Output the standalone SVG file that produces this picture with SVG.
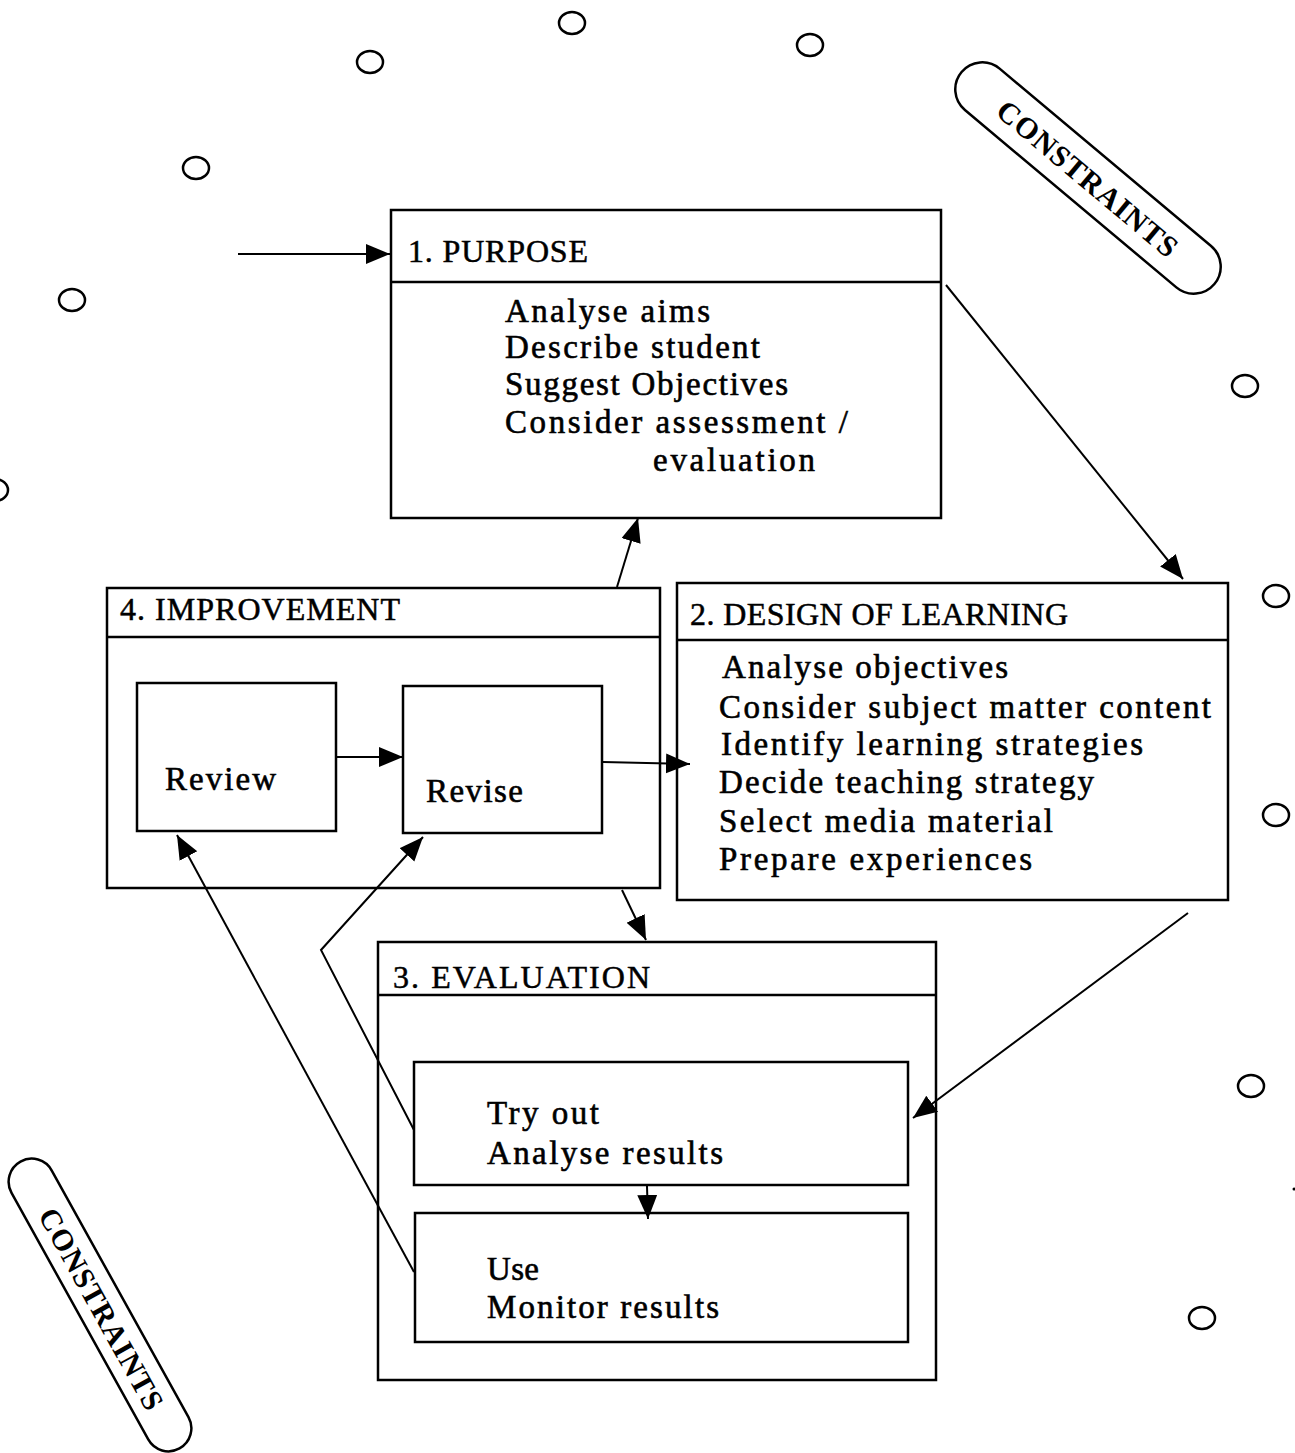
<svg xmlns="http://www.w3.org/2000/svg" width="1295" height="1453" viewBox="0 0 1295 1453">
<style>
.box{fill:none;stroke:#000;stroke-width:2.5}
.ln{fill:none;stroke:#000;stroke-width:2}
.t{font-family:"Liberation Serif","Times New Roman",serif;font-size:33px;fill:#000;stroke:#000;stroke-width:0.6}
.h{font-family:"Liberation Serif","Times New Roman",serif;font-size:32px;fill:#000;stroke:#000;stroke-width:0.5}
.c{font-family:"Liberation Serif","Times New Roman",serif;font-size:30px;font-weight:bold;fill:#000;text-anchor:middle}
.dot{fill:none;stroke:#000;stroke-width:2.5}
</style>
<defs>
<marker id="ah" markerUnits="userSpaceOnUse" markerWidth="26" markerHeight="22" refX="24" refY="10" orient="auto">
<path d="M0,0 L24,10 L0,20 z" fill="#000"/>
</marker>
</defs>
<rect width="1295" height="1453" fill="#fff"/>
<g id="circles">
<ellipse class="dot" cx="572" cy="23" rx="13" ry="11"/>
<ellipse class="dot" cx="810" cy="45" rx="13" ry="11"/>
<ellipse class="dot" cx="370" cy="62" rx="13" ry="11"/>
<ellipse class="dot" cx="196" cy="168" rx="13" ry="11"/>
<ellipse class="dot" cx="72" cy="300" rx="13" ry="11"/>
<ellipse class="dot" cx="-5" cy="490" rx="13" ry="11"/>
<ellipse class="dot" cx="1245" cy="386" rx="13" ry="11"/>
<ellipse class="dot" cx="1276" cy="596" rx="13" ry="11"/>
<ellipse class="dot" cx="1276" cy="815" rx="13" ry="11"/>
<ellipse class="dot" cx="1251" cy="1086" rx="13" ry="11"/>
<ellipse class="dot" cx="1202" cy="1318" rx="13" ry="11"/>
<circle cx="1294" cy="1189" r="1.5" fill="#000"/>
</g>
<g id="constraints-top" transform="translate(1088,178) rotate(40)">
<rect class="box" x="-165" y="-27" width="330" height="54" rx="27"/>
<text class="c" x="0" y="11" textLength="226" lengthAdjust="spacing">CONSTRAINTS</text>
</g>
<g id="constraints-bottom" transform="translate(100,1305) rotate(61)">
<rect class="box" x="-164" y="-23" width="328" height="46" rx="23"/>
<text class="c" x="4" y="11" textLength="226" lengthAdjust="spacing">CONSTRAINTS</text>
</g>
<g id="purpose">
<rect class="box" x="391" y="210" width="550" height="308"/>
<line class="box" x1="391" y1="282" x2="941" y2="282"/>
<text class="h" x="408" y="262" textLength="180" lengthAdjust="spacing">1. PURPOSE</text>
<text class="t" x="505" y="322" textLength="205" lengthAdjust="spacing">Analyse aims</text>
<text class="t" x="505" y="358" textLength="255" lengthAdjust="spacing">Describe student</text>
<text class="t" x="505" y="395" textLength="283" lengthAdjust="spacing">Suggest Objectives</text>
<text class="t" x="505" y="433" textLength="343" lengthAdjust="spacing">Consider assessment /</text>
<text class="t" x="653" y="471" textLength="162" lengthAdjust="spacing">evaluation</text>
</g>
<g id="design">
<rect class="box" x="677" y="583" width="551" height="317"/>
<line class="box" x1="677" y1="640" x2="1228" y2="640"/>
<text class="h" x="690" y="625" textLength="378" lengthAdjust="spacing">2. DESIGN OF LEARNING</text>
<text class="t" x="722" y="678" textLength="286" lengthAdjust="spacing">Analyse objectives</text>
<text class="t" x="719" y="718" textLength="492" lengthAdjust="spacing">Consider subject matter content</text>
<text class="t" x="721" y="755" textLength="422" lengthAdjust="spacing">Identify learning strategies</text>
<text class="t" x="719" y="793" textLength="375" lengthAdjust="spacing">Decide teaching strategy</text>
<text class="t" x="719" y="832" textLength="334" lengthAdjust="spacing">Select media material</text>
<text class="t" x="719" y="870" textLength="313" lengthAdjust="spacing">Prepare experiences</text>
</g>
<g id="improvement">
<rect class="box" x="107" y="588" width="553" height="300"/>
<line class="box" x1="107" y1="637" x2="660" y2="637"/>
<text class="h" x="120" y="620" textLength="280" lengthAdjust="spacing">4. IMPROVEMENT</text>
</g>
<g id="review">
<rect class="box" x="137" y="683" width="199" height="148"/>
<text class="t" x="165" y="790" textLength="111" lengthAdjust="spacing">Review</text>
</g>
<g id="revise">
<rect class="box" x="403" y="686" width="199" height="147"/>
<text class="t" x="426" y="802" textLength="97" lengthAdjust="spacing">Revise</text>
</g>
<g id="evaluation">
<rect class="box" x="378" y="942" width="558" height="438"/>
<line class="box" x1="378" y1="995" x2="936" y2="995"/>
<text class="h" x="393" y="988" textLength="257" lengthAdjust="spacing">3. EVALUATION</text>
</g>
<g id="tryout">
<rect class="box" x="414" y="1062" width="494" height="123"/>
<text class="t" x="487" y="1124" textLength="112" lengthAdjust="spacing">Try out</text>
<text class="t" x="487" y="1164" textLength="236" lengthAdjust="spacing">Analyse results</text>
</g>
<g id="use">
<rect class="box" x="415" y="1213" width="493" height="129"/>
<text class="t" x="487" y="1280" textLength="52" lengthAdjust="spacing">Use</text>
<text class="t" x="487" y="1318" textLength="232" lengthAdjust="spacing">Monitor results</text>
</g>
<g id="connectors">
<line class="ln" x1="238" y1="254" x2="390" y2="254" marker-end="url(#ah)"/>
<line class="ln" x1="946" y1="285" x2="1183" y2="579" marker-end="url(#ah)"/>
<line class="ln" x1="617" y1="587" x2="638" y2="518" marker-end="url(#ah)"/>
<line class="ln" x1="336" y1="757" x2="403" y2="757" marker-end="url(#ah)"/>
<line class="ln" x1="603" y1="762" x2="690" y2="764" marker-end="url(#ah)"/>
<line class="ln" x1="622" y1="890" x2="646" y2="940" marker-end="url(#ah)"/>
<line class="ln" x1="1188" y1="913" x2="913" y2="1118" marker-end="url(#ah)"/>
<line class="ln" x1="647" y1="1186" x2="648" y2="1219" marker-end="url(#ah)"/>
<polyline class="ln" points="414,1130 321,950 423,837" marker-end="url(#ah)"/>
<line class="ln" x1="414" y1="1272" x2="177" y2="835" marker-end="url(#ah)"/>
</g>
</svg>
